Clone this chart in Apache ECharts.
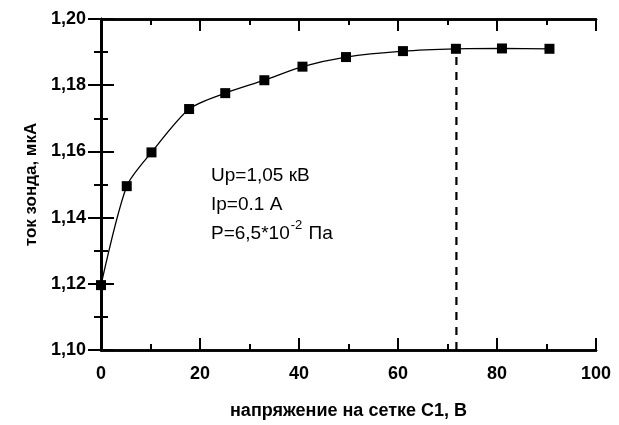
<!DOCTYPE html>
<html>
<head>
<meta charset="utf-8">
<script src="https://cdn.jsdelivr.net/npm/echarts@6/dist/echarts.min.js"></script>
<style>
html,body{margin:0;padding:0;background:#fff;}
#c{width:619px;height:425px;}
</style>
</head>
<body>
<div id="c"></div>
<script>
const voltage = [0, 5.2, 10.2, 17.8, 25.1, 33.0, 40.7, 49.5, 61.0, 71.7, 81.0, 90.6];
const current = [1.1196, 1.1495, 1.1597, 1.1728, 1.1776, 1.1815, 1.1856, 1.1885, 1.1903, 1.1910, 1.1911, 1.1910];
const dashX = [71.8, 71.8];
const dashY = [1.10, 1.1910];
const xTicks = [0, 20, 40, 60, 80, 100];
const yTicks = [1.10, 1.12, 1.14, 1.16, 1.18, 1.20];
const annotation = ['Up=1,05 кВ', 'Ip=0.1 A', 'P=6,5*10', '-2', ' Па'];

const chart = echarts.init(document.getElementById('c'));
const fontFam = '"Liberation Sans", Arial, sans-serif';
const axisLineStyle = {color: '#000', width: 2.5};
const tickStyle = {color: '#000', width: 2};
function xAx(pos, interval, len, extra) {
  return Object.assign({
    type: 'value', gridIndex: 0, position: pos,
    min: xTicks[0], max: xTicks[xTicks.length-1], interval: interval,
    axisLine: {show: true, lineStyle: axisLineStyle},
    axisTick: {show: true, inside: true, length: len, lineStyle: tickStyle},
    axisLabel: {show: false},
    splitLine: {show: false}
  }, extra || {});
}
function yAx(pos, interval, len, extra) {
  return Object.assign({
    type: 'value', gridIndex: 0, position: pos,
    min: yTicks[0], max: yTicks[yTicks.length-1], interval: interval,
    axisLine: {show: true, lineStyle: axisLineStyle},
    axisTick: {show: true, inside: true, length: len, lineStyle: tickStyle},
    axisLabel: {show: false},
    splitLine: {show: false}
  }, extra || {});
}
chart.setOption({
  animation: false,
  backgroundColor: '#fff',
  grid: {left: 101, right: 23, top: 19, bottom: 72},
  xAxis: [
    xAx('bottom', 20, 12, {
      name: 'напряжение на сетке С1, В', nameLocation: 'middle', nameGap: 52,
      nameTextStyle: {fontFamily: fontFam, fontWeight: 'bold', fontSize: 18, color: '#000'},
      axisLabel: {show: true, margin: 15, fontFamily: fontFam, fontWeight: 'bold', fontSize: 18, color: '#000'}
    }),
    xAx('top', 20, 12),
    xAx('bottom', 10, 6),
    xAx('top', 10, 6)
  ],
  yAxis: [
    yAx('left', 0.02, 13, {
      name: 'ток зонда, мкА', nameLocation: 'middle', nameGap: 60,
      nameTextStyle: {fontFamily: fontFam, fontWeight: 'bold', fontSize: 17, color: '#000'},
      axisLabel: {show: true, margin: 15, fontFamily: fontFam, fontWeight: 'bold', fontSize: 18, color: '#000',
        formatter: v => v.toFixed(2).replace('.', ',')}
    }),
    yAx('right', 0.02, 13),
    yAx('left', 0.01, 7),
    yAx('right', 0.01, 7)
  ],
  graphic: [{
    type: 'text', left: 211, top: 166,
    style: {
      text: '{a|' + annotation[0] + '}\n{a|' + annotation[1] + '}\n{a|' + annotation[2] + '}{s|' + annotation[3] + '}{a|' + annotation[4] + '}',
      rich: {
        a: {fontFamily: fontFam, fontSize: 19, lineHeight: 29, fill: '#000', color: '#000'},
        s: {fontFamily: fontFam, fontSize: 13, lineHeight: 29, fill: '#000', color: '#000', verticalAlign: 'top', padding: [0, 1, 6, 1]}
      }
    }
  }],
  series: [
    {
      type: 'line', smooth: 0.25, xAxisIndex: 0, yAxisIndex: 0,
      data: voltage.map((v, i) => [v, current[i]]),
      symbol: 'rect', symbolSize: 10,
      itemStyle: {color: '#000'},
      lineStyle: {color: '#000', width: 1.3}
    },
    {
      type: 'line', symbol: 'none', xAxisIndex: 0, yAxisIndex: 0,
      data: dashX.map((v, i) => [v, dashY[i]]),
      lineStyle: {color: '#000', width: 2.2, type: [8, 7]},
      z: 1
    }
  ]
});
</script>
</body>
</html>
